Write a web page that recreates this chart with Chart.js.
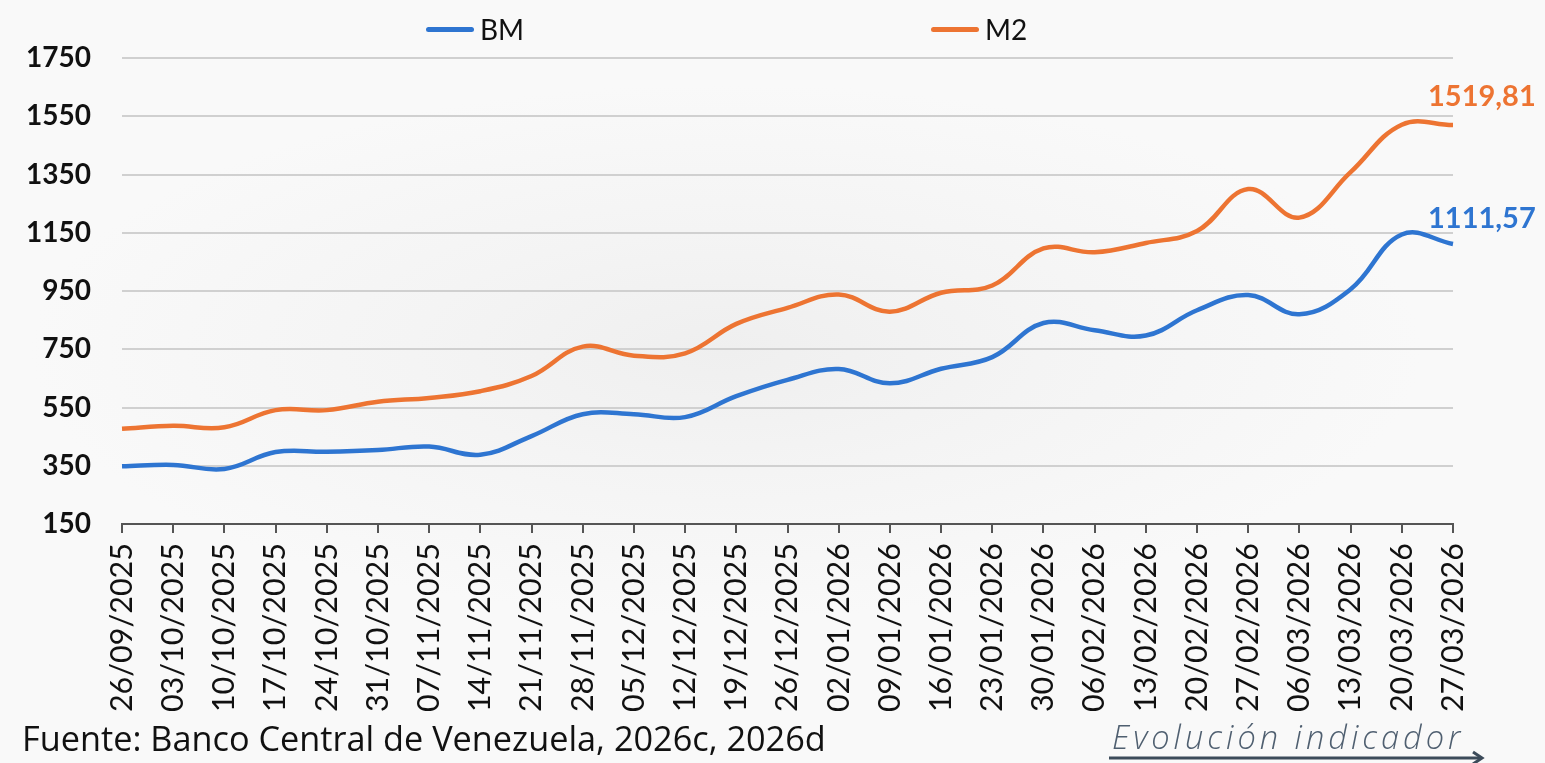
<!DOCTYPE html>
<html>
<head>
<meta charset="utf-8">
<script src="https://cdn.jsdelivr.net/npm/chart.js@4.4.1/dist/chart.umd.min.js"></script>
<style>
  html, body { margin: 0; padding: 0; }
  body {
    width: 1545px; height: 763px; overflow: hidden; position: relative;
    background: radial-gradient(ellipse 45% 35% at 47% 46%, #efefef 0%, #f4f4f4 45%, #f9f9f9 100%);
    font-family: Lato, 'Open Sans', sans-serif;
  }
  #wrap { position: absolute; left: 0; top: 0; width: 1545px; height: 763px; }
  .legend { position: absolute; top: 12px; display: flex; align-items: center; font-size: 28px; color: #111; }
  .legend .swatch { width: 48px; height: 5px; border-radius: 3px; margin-right: 6px; }
  .fuente { position: absolute; left: 22px; top: 714px; font-family: 'Open Sans', sans-serif; font-size: 30px; color: #111; white-space: nowrap; }
  .evol { position: absolute; left: 1112px; top: 714px; font-family: 'Open Sans', sans-serif; font-size: 29px; font-style: italic; font-weight: 300;
          letter-spacing: 4px; color: #4f5f70; white-space: nowrap; }
  svg.arrow { position: absolute; left: 1105px; top: 749px; }
</style>
</head>
<body>
<div id="wrap"><canvas id="chart" width="1545" height="763"></canvas></div>

<div class="legend" style="left:426px"><div class="swatch" style="background:#2E75D1"></div>BM</div>
<div class="legend" style="left:931px"><div class="swatch" style="background:#ED7432"></div>M2</div>

<div class="fuente" id="fuente">Fuente: Banco Central de Venezuela, 2026c, 2026d</div>
<div class="evol" id="evol">Evolución indicador</div>
<svg class="arrow" width="385" height="18">
  <line x1="4" y1="9" x2="376" y2="9" stroke="#3c4b5a" stroke-width="3"/>
  <polyline points="368,3 377,9 368,15" fill="none" stroke="#3c4b5a" stroke-width="3"/>
</svg>

<script>
// fechas semanales
const labels = [
  '26/09/2025', '03/10/2025', '10/10/2025', '17/10/2025', '24/10/2025', '31/10/2025',
  '07/11/2025', '14/11/2025', '21/11/2025', '28/11/2025', '05/12/2025', '12/12/2025',
  '19/12/2025', '26/12/2025', '02/01/2026', '09/01/2026', '16/01/2026', '23/01/2026',
  '30/01/2026', '06/02/2026', '13/02/2026', '20/02/2026', '27/02/2026', '06/03/2026',
  '13/03/2026', '20/03/2026', '27/03/2026'
];

const bmValues = [
  348, 353, 339, 397, 398, 404, 416, 388, 452, 527, 527, 517, 589, 645,
  682, 633, 683, 723, 840, 815, 797, 884, 936, 870, 956, 1144, 1111.57
];

const m2Values = [
  477, 487, 482, 541, 541, 570, 583, 606, 658, 759, 728, 736, 837, 892,
  938, 879, 944, 969, 1096, 1083, 1115, 1156, 1300, 1202, 1358, 1521, 1519.81
];

const yTicks = { min: 150, max: 1750, step: 200 };

const BLUE = '#2E75D1';
const ORANGE = '#ED7432';

// ajustar textos de pie al ancho del original
function fitWidth(el, target) {
  const w = el.getBoundingClientRect().width;
  const size = parseFloat(getComputedStyle(el).fontSize);
  el.style.fontSize = (size * target / w).toFixed(2) + 'px';
}
fitWidth(document.getElementById('fuente'), 804);
fitWidth(document.getElementById('evol'), 362);

// etiqueta con el último valor de cada serie
const endLabels = {
  id: 'endLabels',
  afterDatasetsDraw(chart) {
    const ctx = chart.ctx;
    const offsets = [-25, -28];
    ctx.save();
    ctx.font = 'bold 29px Lato';
    ctx.textAlign = 'left';
    ctx.textBaseline = 'middle';
    chart.data.datasets.forEach((ds, i) => {
      const meta = chart.getDatasetMeta(i);
      const pt = meta.data[meta.data.length - 1];
      const val = ds.data[ds.data.length - 1];
      ctx.fillStyle = ds.borderColor;
      ctx.fillText(val.toFixed(2).replace('.', ','), pt.x - 25, pt.y + offsets[i]);
    });
    ctx.restore();
  }
};

new Chart(document.getElementById('chart').getContext('2d'), {
  type: 'line',
  data: {
    labels: labels,
    datasets: [
      { label: 'BM', data: bmValues, borderColor: BLUE, borderWidth: 4.5, pointRadius: 0, tension: 0.4, fill: false },
      { label: 'M2', data: m2Values, borderColor: ORANGE, borderWidth: 4.5, pointRadius: 0, tension: 0.4, fill: false }
    ]
  },
  options: {
    responsive: false,
    animation: false,
    layout: { padding: { top: 58, right: 92, bottom: 0, left: 0 } },
    plugins: {
      legend: { display: false },
      tooltip: { enabled: false }
    },
    scales: {
      x: {
        offset: false,
        grid: { display: true, drawOnChartArea: false, drawTicks: true, tickLength: 9, color: '#555', lineWidth: 2 },
        border: { display: true, color: '#555', width: 2 },
        ticks: {
          autoSkip: false,
          maxRotation: 90,
          minRotation: 90,
          padding: 10,
          color: '#111',
          font: { family: 'Lato', size: 30.5 }
        },
        afterFit(scale) { scale.height = 239; }
      },
      y: {
        min: yTicks.min,
        max: yTicks.max,
        grid: { color: '#d0d0d0', lineWidth: 2, drawTicks: false },
        border: { display: false },
        ticks: {
          stepSize: yTicks.step,
          padding: 31,
          color: '#111',
          font: { family: 'Lato', size: 28, weight: 'bold' },
          callback: v => String(v)
        },
        afterFit(scale) { scale.width = 122; }
      }
    }
  },
  plugins: [endLabels]
});
</script>
</body>
</html>
